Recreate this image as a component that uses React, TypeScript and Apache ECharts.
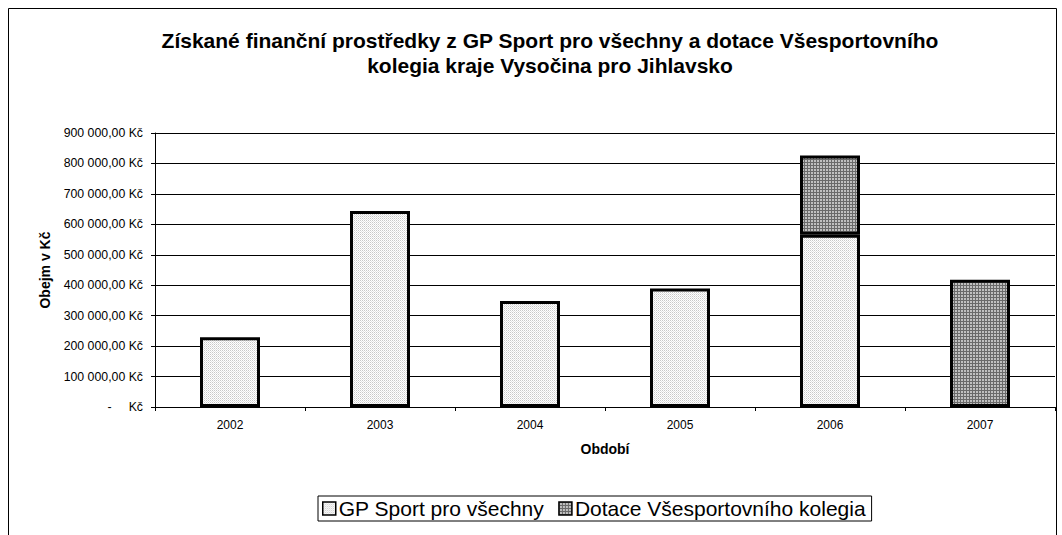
import React, { useEffect, useRef } from "react";
import * as echarts from "echarts";

const titleText =
  "Získané finanční prostředky z GP Sport pro všechny a dotace Všesportovního\nkolegia kraje Vysočina pro Jihlavsko";
const categories = ["2002", "2003", "2004", "2005", "2006", "2007"];
const gpSport = [229000, 644000, 348000, 389000, 566000, null];
const dotace = [null, null, null, null, 260000, 418000];
const seriesNames = ["GP Sport pro všechny", "Dotace Všesportovního kolegia"];
const yAxisName = "Obejm v Kč";
const xAxisName = "Období";

function makePattern(size: number, paint: (x: number, y: number) => string) {
  const c = document.createElement("canvas");
  c.width = size;
  c.height = size;
  const ctx = c.getContext("2d")!;
  for (let y = 0; y < size; y++) {
    for (let x = 0; x < size; x++) {
      ctx.fillStyle = paint(x, y);
      ctx.fillRect(x, y, 1, 1);
    }
  }
  return {
    image: c.toDataURL(),
    repeat: "repeat",
    imageWidth: size,
    imageHeight: size,
  } as any;
}

function fmt(v: number) {
  if (v === 0) return "-\u00a0\u00a0\u00a0\u00a0\u00a0Kč";
  const s = String(Math.round(v)).replace(/\B(?=(\d{3})+(?!\d))/g, "\u00a0");
  return s + ",00\u00a0Kč";
}

export default function App() {
  const ref = useRef<HTMLDivElement>(null);
  useEffect(() => {
    if (!ref.current) return;
    const chart = echarts.init(ref.current, null, { renderer: "svg" });
    const lightPat = makePattern(4, (x, y) =>
      (x + y) % 2 === 0 && y % 2 === 0 ? "#c8c8c8" : (x + y) % 2 === 0 ? "#e2e2e2" : "#ffffff"
    );
    const darkPat = makePattern(3, (x, y) =>
      x === 0 || y === 0 ? "#6a6a6a" : "#c0c0c0"
    );
    const font = "'Liberation Sans', Arial, sans-serif";
    chart.setOption({
      animation: false,
      textStyle: { fontFamily: font, color: "#000" },
      title: {
        text: titleText,
        left: 545,
        top: 23,
        textAlign: "center",
        textStyle: {
          fontFamily: font,
          fontSize: 21,
          fontWeight: "bold",
          color: "#000",
          lineHeight: 25,
        },
      },
      graphic: [
        {
          type: "rect",
          z: -10,
          shape: { x: 8.5, y: 8.5, width: 1048, height: 600 },
          style: { fill: "#fff", stroke: "#000", lineWidth: 1 },
        },
      ],
      legend: {
        left: 318,
        top: 496,
        orient: "horizontal",
        itemWidth: 13,
        itemHeight: 13,
        itemGap: 14,
        padding: [2, 6, 2, 4],
        borderColor: "#000",
        borderWidth: 1,
        icon: "rect",
        textStyle: { fontFamily: font, fontSize: 21, color: "#000", padding: [0, 0, 0, -2] },
        itemStyle: { borderColor: "#000", borderWidth: 1.5 },
        data: seriesNames,
      },
      grid: { left: 155, right: 7, top: 133, bottom: 128, containLabel: false },
      xAxis: {
        type: "category",
        data: categories,
        name: xAxisName,
        nameLocation: "middle",
        nameGap: 35,
        nameTextStyle: { fontFamily: font, fontSize: 14, fontWeight: "bold", color: "#000" },
        axisLine: { lineStyle: { color: "#000", width: 1 } },
        axisTick: { show: true, length: 4, lineStyle: { color: "#000" } },
        axisLabel: { fontFamily: font, fontSize: 12, color: "#000", margin: 12 },
        splitLine: { show: false },
      },
      yAxis: {
        type: "value",
        min: 0,
        max: 900000,
        interval: 100000,
        name: yAxisName,
        nameLocation: "middle",
        nameGap: 103,
        nameRotate: 90,
        nameTextStyle: { fontFamily: font, fontSize: 14, fontWeight: "bold", color: "#000" },
        axisLine: { show: true, lineStyle: { color: "#000", width: 1 } },
        axisTick: { show: true, length: 4, lineStyle: { color: "#000" } },
        axisLabel: {
          fontFamily: font,
          fontSize: 12.3,
          color: "#000",
          margin: 12,
          formatter: (v: number) => fmt(v),
        },
        splitLine: { show: true, lineStyle: { color: "#000", width: 1 } },
      },
      series: [
        {
          name: seriesNames[0],
          type: "bar",
          stack: "total",
          barWidth: 60,
          data: gpSport,
          itemStyle: { color: lightPat, borderColor: "#000", borderWidth: 3 },
        },
        {
          name: seriesNames[1],
          type: "bar",
          stack: "total",
          barWidth: 60,
          data: dotace,
          itemStyle: { color: darkPat, borderColor: "#000", borderWidth: 3 },
        },
      ],
    });
    return () => chart.dispose();
  }, []);
  return (
    <div
      ref={ref}
      style={{ position: "fixed", left: 0, top: 0, width: 1062, height: 535, background: "#fff" }}
    />
  );
}
